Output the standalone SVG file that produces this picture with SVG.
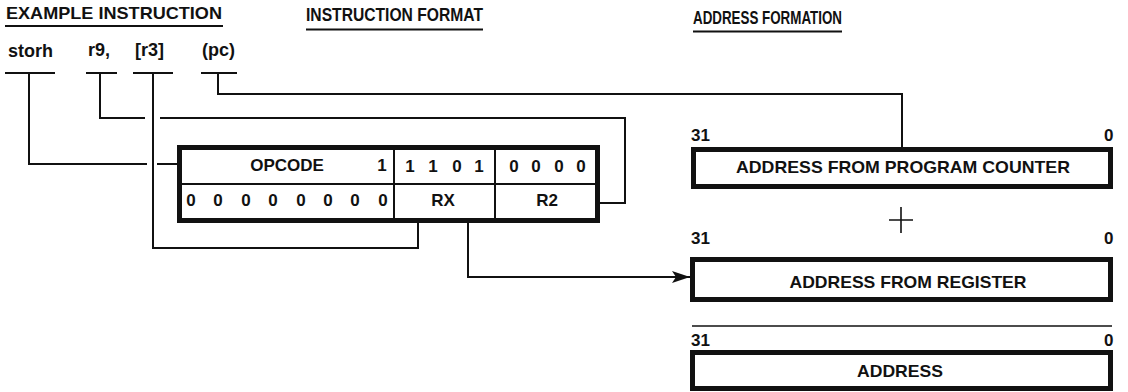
<svg xmlns="http://www.w3.org/2000/svg" width="1128" height="392" viewBox="0 0 1128 392">
<style>
text{font-family:"Liberation Sans",Arial,sans-serif;font-weight:bold;fill:#111}
.h{font-size:17px}
.tok{font-size:18px}
.bt{font-size:17px}
.c{text-anchor:middle}
.ln{fill:none;stroke:#111;stroke-width:2}
.box{fill:#fff;stroke:#111;stroke-width:5}
.div{stroke:#111;stroke-width:2}
</style>
<defs>
<marker id="arr" markerUnits="userSpaceOnUse" markerWidth="20" markerHeight="14" refX="18" refY="6" orient="auto">
<path d="M0,0 L18,6 L0,12 L4,6 Z" fill="#111"/>
</marker>
</defs>
<rect width="1128" height="392" fill="#fff"/>
<g id="headings">
<text class="h" x="6" y="18.5" textLength="216" lengthAdjust="spacingAndGlyphs">EXAMPLE INSTRUCTION</text>
<line class="ln" x1="5" y1="26" x2="223" y2="26"/>
<text class="h" x="306" y="21" textLength="177" lengthAdjust="spacingAndGlyphs" style="font-size:18px">INSTRUCTION FORMAT</text>
<line class="ln" x1="306" y1="29.5" x2="483" y2="29.5"/>
<text class="h" x="693" y="23.5" textLength="149" lengthAdjust="spacingAndGlyphs" style="font-size:18.5px">ADDRESS FORMATION</text>
<line class="ln" x1="693" y1="31.5" x2="842" y2="31.5"/>
</g>
<g id="example">
<text class="tok" x="8" y="57">storh</text>
<text class="tok" x="88" y="56">r9,</text>
<text class="tok" x="135" y="56">[r3]</text>
<text class="tok" x="202" y="56">(pc)</text>
<line class="ln" x1="5" y1="73" x2="55" y2="73"/>
<line class="ln" x1="86" y1="73" x2="117" y2="73"/>
<line class="ln" x1="133" y1="73" x2="173" y2="73"/>
<line class="ln" x1="201" y1="73" x2="237" y2="73"/>
</g>
<g id="connectors">
<path class="ln" d="M29,73 V164 H147 M157,164 H178"/>
<path class="ln" d="M100,73 V118 H145 M160,118 H625 V203 H599"/>
<path class="ln" d="M153,73 V248 H418 V222"/>
<path class="ln" d="M218,73 V94 H902 V148"/>
<path class="ln" d="M468,222 V277 H690" marker-end="url(#arr)"/>
</g>
<g id="instruction-format">
<rect class="box" x="179.5" y="147.5" width="418" height="73"/>
<line class="div" x1="182" y1="184" x2="595" y2="184"/>
<line class="div" x1="394" y1="150" x2="394" y2="218"/>
<line class="div" x1="495" y1="150" x2="495" y2="218"/>
<text class="bt c" x="287" y="171">OPCODE</text>
<text class="bt c" x="382" y="171">1</text>
<text class="bt c" x="410" y="172">1</text>
<text class="bt c" x="433" y="172">1</text>
<text class="bt c" x="457" y="172">0</text>
<text class="bt c" x="479" y="172">1</text>
<text class="bt c" x="514" y="172">0</text>
<text class="bt c" x="536" y="172">0</text>
<text class="bt c" x="559" y="172">0</text>
<text class="bt c" x="581" y="172">0</text>
<text class="bt c" x="191" y="206">0</text>
<text class="bt c" x="218" y="206">0</text>
<text class="bt c" x="246" y="206">0</text>
<text class="bt c" x="273" y="206">0</text>
<text class="bt c" x="301" y="206">0</text>
<text class="bt c" x="328" y="206">0</text>
<text class="bt c" x="355" y="206">0</text>
<text class="bt c" x="383" y="206">0</text>
<text class="bt c" x="443" y="206">RX</text>
<text class="bt c" x="547" y="206">R2</text>
</g>
<g id="pc-address">
<text class="bt" x="691" y="141">31</text>
<text class="bt" x="1104" y="141">0</text>
<rect class="box" x="693.5" y="149.5" width="417" height="37"/>
<text class="bt c" x="903" y="173" textLength="334" lengthAdjust="spacingAndGlyphs">ADDRESS FROM PROGRAM COUNTER</text>
</g>
<g id="plus">
<path d="M889,220 H913 M901,207 V233" stroke="#111" stroke-width="1.6" fill="none"/>
</g>
<g id="register-address">
<text class="bt" x="691" y="244">31</text>
<text class="bt" x="1104" y="244">0</text>
<rect class="box" x="692.5" y="259.5" width="418" height="40"/>
<text class="bt c" x="908" y="288" textLength="237" lengthAdjust="spacingAndGlyphs">ADDRESS FROM REGISTER</text>
</g>
<g id="result-address">
<line x1="692" y1="326" x2="1112" y2="326" stroke="#111" stroke-width="1.6"/>
<text class="bt" x="691" y="346">31</text>
<text class="bt" x="1104" y="346">0</text>
<rect class="box" x="692.5" y="352.5" width="418" height="36"/>
<text class="bt c" x="900" y="377" textLength="86" lengthAdjust="spacingAndGlyphs">ADDRESS</text>
</g>
</svg>
